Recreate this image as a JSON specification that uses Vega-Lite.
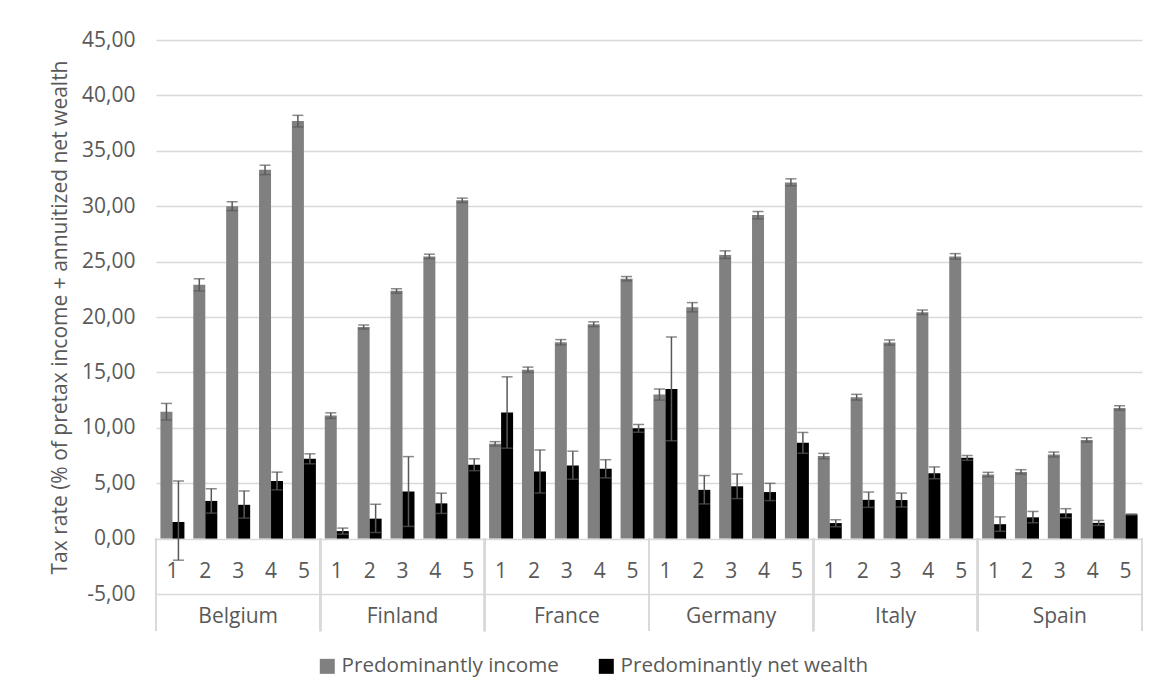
{
  "$schema": "https://vega.github.io/schema/vega-lite/v6.json",
  "autosize": {"type": "none"},
  "width": 986,
  "height": 554,
  "padding": {"left": 156, "top": 40, "right": 16, "bottom": 103},
  "background": "white",
  "config": {
    "font": "Open Sans",
    "view": {"stroke": null}
  },
  "data": {
    "values": [
      {"country": "Belgium", "cell": "Belgium 1", "series": "Predominantly income", "value": 11.45, "lo": 10.7, "hi": 12.2},
      {"country": "Belgium", "cell": "Belgium 2", "series": "Predominantly income", "value": 22.9, "lo": 22.35, "hi": 23.45},
      {"country": "Belgium", "cell": "Belgium 3", "series": "Predominantly income", "value": 30.0, "lo": 29.6, "hi": 30.4},
      {"country": "Belgium", "cell": "Belgium 4", "series": "Predominantly income", "value": 33.3, "lo": 32.85, "hi": 33.7},
      {"country": "Belgium", "cell": "Belgium 5", "series": "Predominantly income", "value": 37.7, "lo": 37.15, "hi": 38.2},
      {"country": "Belgium", "cell": "Belgium 1", "series": "Predominantly net wealth", "value": 1.5, "lo": -1.95, "hi": 5.2},
      {"country": "Belgium", "cell": "Belgium 2", "series": "Predominantly net wealth", "value": 3.4, "lo": 2.3, "hi": 4.5},
      {"country": "Belgium", "cell": "Belgium 3", "series": "Predominantly net wealth", "value": 3.05, "lo": 1.85, "hi": 4.3},
      {"country": "Belgium", "cell": "Belgium 4", "series": "Predominantly net wealth", "value": 5.2, "lo": 4.4, "hi": 6.0},
      {"country": "Belgium", "cell": "Belgium 5", "series": "Predominantly net wealth", "value": 7.2, "lo": 6.75, "hi": 7.65},
      {"country": "Finland", "cell": "Finland 1", "series": "Predominantly income", "value": 11.1, "lo": 10.85, "hi": 11.35},
      {"country": "Finland", "cell": "Finland 2", "series": "Predominantly income", "value": 19.1, "lo": 18.92, "hi": 19.28},
      {"country": "Finland", "cell": "Finland 3", "series": "Predominantly income", "value": 22.36, "lo": 22.15, "hi": 22.55},
      {"country": "Finland", "cell": "Finland 4", "series": "Predominantly income", "value": 25.47, "lo": 25.27, "hi": 25.67},
      {"country": "Finland", "cell": "Finland 5", "series": "Predominantly income", "value": 30.53, "lo": 30.33, "hi": 30.73},
      {"country": "Finland", "cell": "Finland 1", "series": "Predominantly net wealth", "value": 0.68, "lo": 0.4, "hi": 0.95},
      {"country": "Finland", "cell": "Finland 2", "series": "Predominantly net wealth", "value": 1.8, "lo": 0.55, "hi": 3.1},
      {"country": "Finland", "cell": "Finland 3", "series": "Predominantly net wealth", "value": 4.25, "lo": 1.1, "hi": 7.4},
      {"country": "Finland", "cell": "Finland 4", "series": "Predominantly net wealth", "value": 3.18, "lo": 2.27, "hi": 4.1},
      {"country": "Finland", "cell": "Finland 5", "series": "Predominantly net wealth", "value": 6.67, "lo": 6.13, "hi": 7.2},
      {"country": "France", "cell": "France 1", "series": "Predominantly income", "value": 8.55, "lo": 8.35, "hi": 8.75},
      {"country": "France", "cell": "France 2", "series": "Predominantly income", "value": 15.25, "lo": 15.0, "hi": 15.48},
      {"country": "France", "cell": "France 3", "series": "Predominantly income", "value": 17.72, "lo": 17.48, "hi": 17.96},
      {"country": "France", "cell": "France 4", "series": "Predominantly income", "value": 19.35, "lo": 19.13, "hi": 19.56},
      {"country": "France", "cell": "France 5", "series": "Predominantly income", "value": 23.45, "lo": 23.26, "hi": 23.65},
      {"country": "France", "cell": "France 1", "series": "Predominantly net wealth", "value": 11.38, "lo": 8.16, "hi": 14.6},
      {"country": "France", "cell": "France 2", "series": "Predominantly net wealth", "value": 6.05, "lo": 4.12, "hi": 8.0},
      {"country": "France", "cell": "France 3", "series": "Predominantly net wealth", "value": 6.6, "lo": 5.36, "hi": 7.89},
      {"country": "France", "cell": "France 4", "series": "Predominantly net wealth", "value": 6.3, "lo": 5.48, "hi": 7.12},
      {"country": "France", "cell": "France 5", "series": "Predominantly net wealth", "value": 9.95, "lo": 9.6, "hi": 10.3},
      {"country": "Germany", "cell": "Germany 1", "series": "Predominantly income", "value": 13.0, "lo": 12.5, "hi": 13.5},
      {"country": "Germany", "cell": "Germany 2", "series": "Predominantly income", "value": 20.88, "lo": 20.46, "hi": 21.3},
      {"country": "Germany", "cell": "Germany 3", "series": "Predominantly income", "value": 25.6, "lo": 25.28, "hi": 25.97},
      {"country": "Germany", "cell": "Germany 4", "series": "Predominantly income", "value": 29.2, "lo": 28.86, "hi": 29.52},
      {"country": "Germany", "cell": "Germany 5", "series": "Predominantly income", "value": 32.15, "lo": 31.84, "hi": 32.47},
      {"country": "Germany", "cell": "Germany 1", "series": "Predominantly net wealth", "value": 13.5, "lo": 8.82, "hi": 18.2},
      {"country": "Germany", "cell": "Germany 2", "series": "Predominantly net wealth", "value": 4.4, "lo": 3.13, "hi": 5.69},
      {"country": "Germany", "cell": "Germany 3", "series": "Predominantly net wealth", "value": 4.72, "lo": 3.61, "hi": 5.83},
      {"country": "Germany", "cell": "Germany 4", "series": "Predominantly net wealth", "value": 4.2, "lo": 3.43, "hi": 4.99},
      {"country": "Germany", "cell": "Germany 5", "series": "Predominantly net wealth", "value": 8.64, "lo": 7.7, "hi": 9.58},
      {"country": "Italy", "cell": "Italy 1", "series": "Predominantly income", "value": 7.45, "lo": 7.21, "hi": 7.69},
      {"country": "Italy", "cell": "Italy 2", "series": "Predominantly income", "value": 12.76, "lo": 12.5, "hi": 13.02},
      {"country": "Italy", "cell": "Italy 3", "series": "Predominantly income", "value": 17.7, "lo": 17.47, "hi": 17.93},
      {"country": "Italy", "cell": "Italy 4", "series": "Predominantly income", "value": 20.43, "lo": 20.23, "hi": 20.63},
      {"country": "Italy", "cell": "Italy 5", "series": "Predominantly income", "value": 25.47, "lo": 25.22, "hi": 25.72},
      {"country": "Italy", "cell": "Italy 1", "series": "Predominantly net wealth", "value": 1.4, "lo": 1.07, "hi": 1.7},
      {"country": "Italy", "cell": "Italy 2", "series": "Predominantly net wealth", "value": 3.5, "lo": 2.82, "hi": 4.2},
      {"country": "Italy", "cell": "Italy 3", "series": "Predominantly net wealth", "value": 3.48, "lo": 2.85, "hi": 4.11},
      {"country": "Italy", "cell": "Italy 4", "series": "Predominantly net wealth", "value": 5.9, "lo": 5.4, "hi": 6.47},
      {"country": "Italy", "cell": "Italy 5", "series": "Predominantly net wealth", "value": 7.3, "lo": 7.07, "hi": 7.5},
      {"country": "Spain", "cell": "Spain 1", "series": "Predominantly income", "value": 5.78, "lo": 5.58, "hi": 5.98},
      {"country": "Spain", "cell": "Spain 2", "series": "Predominantly income", "value": 6.02, "lo": 5.82, "hi": 6.22},
      {"country": "Spain", "cell": "Spain 3", "series": "Predominantly income", "value": 7.59, "lo": 7.37, "hi": 7.81},
      {"country": "Spain", "cell": "Spain 4", "series": "Predominantly income", "value": 8.9, "lo": 8.7, "hi": 9.1},
      {"country": "Spain", "cell": "Spain 5", "series": "Predominantly income", "value": 11.79, "lo": 11.59, "hi": 11.99},
      {"country": "Spain", "cell": "Spain 1", "series": "Predominantly net wealth", "value": 1.3, "lo": 0.66, "hi": 1.96},
      {"country": "Spain", "cell": "Spain 2", "series": "Predominantly net wealth", "value": 1.92, "lo": 1.43, "hi": 2.45},
      {"country": "Spain", "cell": "Spain 3", "series": "Predominantly net wealth", "value": 2.28, "lo": 1.88, "hi": 2.7},
      {"country": "Spain", "cell": "Spain 4", "series": "Predominantly net wealth", "value": 1.42, "lo": 1.19, "hi": 1.64},
      {"country": "Spain", "cell": "Spain 5", "series": "Predominantly net wealth", "value": 2.18, "lo": 2.14, "hi": 2.22}
    ]
  },
  "layer": [
    {
      "encoding": {
        "x": {
          "field": "cell", "type": "nominal",
          "scale": {"paddingInner": 0.27, "paddingOuter": 0.135},
          "axis": {
            "orient": "bottom", "offset": -55, "domain": false, "ticks": false, "grid": false,
            "labelExpr": "slice(datum.label, -1)", "labelAngle": 0, "labelPadding": 21,
            "labelFontSize": 21, "labelColor": "#595959", "title": null
          }
        },
        "xOffset": {"field": "series", "type": "nominal", "scale": {"paddingInner": 0, "paddingOuter": 0}}
      },
      "layer": [
        {
          "mark": {"type": "bar"},
          "encoding": {
            "y": {
              "field": "value", "type": "quantitative",
              "scale": {"domain": [-5, 45], "nice": false, "zero": false},
              "axis": {
                "values": [-5, 0, 5, 10, 15, 20, 25, 30, 35, 40, 45],
                "labelExpr": "replace(replace(format(datum.value, '.2f'), '.', ','), '\u2212', '-')",
                "grid": true, "gridColor": "#d9d9d9", "gridWidth": 1.3,
                "domain": false, "ticks": false, "labelPadding": 21,
                "labelFontSize": 21, "labelColor": "#595959",
                "title": "Tax rate (% of pretax income + annuitized net wealth",
                "titleFontSize": 21, "titleFontWeight": "normal", "titleColor": "#595959", "titlePadding": 11
              }
            },
            "color": {
              "field": "series", "type": "nominal",
              "scale": {"domain": ["Predominantly income", "Predominantly net wealth"], "range": ["#808080", "#000000"]},
              "legend": {
                "orient": "none", "legendX": 161, "legendY": 616, "direction": "horizontal",
                "symbolType": "square", "symbolSize": 225, "symbolStrokeWidth": 0,
                "labelFontSize": 20.6, "labelColor": "#595959", "columnPadding": 37, "labelOffset": 4,
                "labelLimit": 0, "title": null
              }
            }
          }
        },
        {
          "mark": {"type": "rule", "color": "#595959", "strokeWidth": 1.5},
          "encoding": {
            "y": {"field": "lo", "type": "quantitative"},
            "y2": {"field": "hi"}
          }
        },
        {
          "mark": {"type": "tick", "color": "#595959", "thickness": 1.5, "size": 11},
          "encoding": {"y": {"field": "lo", "type": "quantitative"}}
        },
        {
          "mark": {"type": "tick", "color": "#595959", "thickness": 1.5, "size": 11},
          "encoding": {"y": {"field": "hi", "type": "quantitative"}}
        }
      ]
    },
    {
      "encoding": {
        "x": {
          "field": "country", "type": "nominal",
          "scale": {"paddingInner": 0, "paddingOuter": 0},
          "axis": {
            "orient": "bottom", "domain": false, "ticks": false, "grid": false,
            "labelAngle": 0, "labelPadding": 11, "labelFontSize": 21, "labelColor": "#595959", "title": null
          }
        }
      },
      "layer": [
        {
          "mark": {"type": "rule", "color": "#d9d9d9", "strokeWidth": 1.5},
          "encoding": {
            "x": {"field": "country", "type": "nominal", "bandPosition": 0},
            "y": {"datum": 0},
            "y2": {"datum": -8.35}
          }
        },
        {
          "mark": {"type": "rule", "color": "#d9d9d9", "strokeWidth": 1.5},
          "encoding": {
            "x": {"field": "country", "type": "nominal", "bandPosition": 1},
            "y": {"datum": 0},
            "y2": {"datum": -8.35}
          }
        }
      ]
    }
  ],
  "resolve": {"scale": {"x": "independent"}, "axis": {"x": "independent"}}
}
